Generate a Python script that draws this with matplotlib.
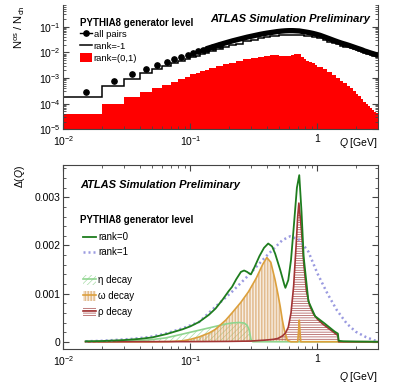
import matplotlib
matplotlib.use('Agg')
import matplotlib.pyplot as plt
import numpy as np
from matplotlib.lines import Line2D
from matplotlib.patches import Patch
from matplotlib.ticker import LogLocator, MultipleLocator, NullFormatter

plt.rcParams['font.family'] = ['Liberation Sans', 'DejaVu Sans']
plt.rcParams['mathtext.fontset'] = 'custom'
plt.rcParams['mathtext.rm'] = 'Liberation Sans'
plt.rcParams['mathtext.it'] = 'Liberation Sans:italic'
plt.rcParams['mathtext.bf'] = 'Liberation Sans:bold'
plt.rcParams['hatch.linewidth'] = 0.5

# ---- top panel: N_os / N_ch per Q bin
bin_edges = [0.01, 0.02, 0.03, 0.04, 0.05, 0.06, 0.07, 0.08, 0.09, 0.10,
             0.11, 0.12, 0.13, 0.14, 0.16, 0.18, 0.20, 0.23, 0.26, 0.30,
             0.34, 0.38, 0.42, 0.46, 0.50, 0.54, 0.58, 0.62, 0.66, 0.70,
             0.74, 0.78, 0.82, 0.86, 0.90, 0.95, 1.0, 1.1, 1.2, 1.3, 1.4,
             1.5, 1.6, 1.7, 1.8, 1.9, 2.0, 2.1, 2.2, 2.3, 2.4, 2.5, 2.6,
             2.7, 2.8, 2.9, 3.0]
all_pairs = [2.8e-4, 7.6e-4, 1.45e-3, 2.2e-3, 3.2e-3, 4.3e-3, 5.5e-3, 6.8e-3, 8.2e-3,
             9.6e-3, 1.1e-2, 1.25e-2, 1.4e-2, 1.65e-2, 2.0e-2, 2.35e-2, 2.8e-2, 3.3e-2,
             3.9e-2, 4.5e-2, 5.1e-2, 5.6e-2, 6.0e-2, 6.4e-2, 6.7e-2, 6.9e-2, 7.0e-2,
             7.0e-2, 6.9e-2, 6.8e-2,
             6.5e-2, 6.25e-2, 6.0e-2, 5.75e-2, 5.45e-2, 5.1e-2, 4.6e-2, 3.9e-2,
             3.35e-2, 2.9e-2, 2.55e-2, 2.28e-2, 2.08e-2, 1.9e-2, 1.73e-2, 1.58e-2,
             1.45e-2, 1.34e-2, 1.24e-2, 1.13e-2, 1.06e-2, 9.9e-3, 9.3e-3, 8.8e-3,
             8.3e-3, 7.9e-3]
rank_m1 = [1.8e-4, 5.0e-4, 9.1e-4, 1.5e-3, 2.2e-3, 3.0e-3, 3.7e-3, 4.6e-3, 5.5e-3,
           6.4e-3, 7.3e-3, 8.3e-3, 9.3e-3, 1.1e-2, 1.33e-2, 1.57e-2, 1.87e-2, 2.2e-2,
           2.65e-2, 3.05e-2, 3.5e-2, 3.85e-2, 4.15e-2, 4.45e-2, 4.7e-2, 4.85e-2,
           4.95e-2, 4.95e-2, 4.9e-2, 4.8e-2,
           4.6e-2, 4.5e-2, 4.35e-2, 4.2e-2, 4.0e-2, 3.8e-2, 3.5e-2, 3.0e-2,
           2.6e-2, 2.28e-2, 2.03e-2, 1.83e-2, 1.68e-2, 1.55e-2, 1.42e-2, 1.31e-2,
           1.21e-2, 1.12e-2, 1.04e-2, 9.6e-3, 9.0e-3, 8.4e-3, 7.9e-3, 7.5e-3,
           7.1e-3, 6.8e-3]
rank_01 = [4.0e-5, 9.8e-5, 1.8e-4, 2.8e-4, 4.0e-4, 5.5e-4, 7.2e-4, 9.1e-4, 1.12e-3,
           1.4e-3, 1.6e-3, 1.8e-3, 2.0e-3, 2.4e-3, 2.9e-3, 3.4e-3, 4.0e-3, 4.7e-3,
           5.3e-3, 5.9e-3, 6.6e-3, 7.2e-3, 7.7e-3, 7.8e-3, 7.5e-3, 6.9e-3, 6.9e-3,
           7.6e-3, 8.6e-3, 8.5e-3,
           6.8e-3, 5.5e-3, 4.7e-3, 4.2e-3, 3.7e-3, 3.3e-3, 2.8e-3, 2.15e-3,
           1.7e-3, 1.3e-3, 1.0e-3, 7.8e-4, 6.2e-4, 5.0e-4, 3.9e-4, 3.0e-4,
           2.4e-4, 1.9e-4, 1.5e-4, 1.2e-4, 9.7e-5, 8.0e-5, 6.6e-5, 5.6e-5,
           4.8e-5, 4.2e-5]

# ---- bottom panel: Delta(Q), values in units of 1e-3
q_rank0 = [0.015, 0.02, 0.03, 0.04, 0.05, 0.065, 0.087, 0.1, 0.117, 0.14, 0.158, 0.18,
           0.2, 0.213, 0.23, 0.25, 0.265, 0.28, 0.29, 0.30, 0.32, 0.35, 0.38, 0.41,
           0.44, 0.465, 0.51, 0.55, 0.56, 0.59, 0.62, 0.65, 0.69, 0.72, 0.75, 0.78,
           0.85, 0.96, 1.14, 1.37, 1.45, 1.47, 1.6, 2.0, 3.0]
d_rank0 = [0.01, 0.015, 0.035, 0.06, 0.09, 0.16, 0.26, 0.32, 0.41, 0.56, 0.69, 0.88,
           1.05, 1.14, 1.30, 1.45, 1.48, 1.45, 1.42, 1.40, 1.55, 1.78, 1.95, 2.04,
           1.98, 1.83, 1.49, 1.18, 1.12, 1.28, 1.7, 2.35, 3.2, 3.46, 2.7, 1.76,
           0.84, 0.53, 0.38, 0.21, 0.17, 0.02, 0.01, 0.005, 0.0]
q_rank1 = [0.015, 0.02, 0.035, 0.048, 0.064, 0.087, 0.117, 0.158, 0.213, 0.287, 0.39,
           0.53, 0.61, 0.72, 0.85, 1.0, 1.2, 1.42, 1.7, 2.0, 2.4, 2.8, 3.0]
d_rank1 = [0.01, 0.02, 0.06, 0.10, 0.17, 0.28, 0.41, 0.73, 1.04, 1.38, 1.76, 2.11,
           2.19, 2.12, 1.87, 1.42, 1.0, 0.66, 0.38, 0.21, 0.10, 0.03, 0.02]
q_eta = [0.015, 0.03, 0.048, 0.064, 0.087, 0.117, 0.158, 0.19, 0.213, 0.24, 0.265,
         0.28, 0.29, 0.30, 0.31, 3.0]
d_eta = [0.0, 0.01, 0.04, 0.08, 0.16, 0.24, 0.32, 0.37, 0.39, 0.40, 0.39, 0.34, 0.25,
         0.05, 0.0, 0.0]
q_omega = [0.015, 0.05, 0.07, 0.087, 0.1, 0.117, 0.14, 0.158, 0.19, 0.213, 0.25, 0.287,
           0.33, 0.37, 0.40, 0.43, 0.465, 0.49, 0.51, 0.53, 0.55, 0.58, 0.62, 0.70,
           0.71, 0.72, 0.73, 0.74, 3.0]
d_omega = [0.0, 0.0, 0.005, 0.02, 0.05, 0.1, 0.18, 0.26, 0.45, 0.6, 0.82, 1.04, 1.32,
           1.6, 1.75, 1.65, 1.28, 0.98, 0.73, 0.45, 0.24, 0.03, 0.0, 0.0, 0.2, 0.45,
           0.2, 0.0, 0.0]
q_rho = [0.015, 0.1, 0.2, 0.3, 0.39, 0.45, 0.49, 0.53, 0.56, 0.59, 0.62, 0.65, 0.68,
         0.70, 0.715, 0.75, 0.78, 0.82, 0.87, 0.93, 1.0, 1.1, 1.25, 1.4, 1.45, 1.47,
         3.0]
d_rho = [0.0, 0.003, 0.008, 0.015, 0.035, 0.05, 0.07, 0.12, 0.18, 0.3, 0.6, 1.15, 2.0,
         2.6, 2.88, 2.3, 1.65, 1.05, 0.75, 0.58, 0.47, 0.37, 0.26, 0.16, 0.13, 0.0, 0.0]

fig = plt.figure(figsize=(3.99, 3.87), dpi=100)

atlas_kw = dict(fontsize=8, fontweight='bold', fontstyle='italic')
frame_col = '#444444'

# ================= top panel
ax1 = fig.add_axes([0.1586, 0.6659, 0.7888, 0.3212])
ax1.set_xscale('log')
ax1.set_yscale('log')
edges = np.array(bin_edges)
centers = 0.5 * (edges[:-1] + edges[1:])
ap = np.array(all_pairs)
ax1.stairs(rank_01, edges, fill=True, baseline=1e-7, color='#ff0000', lw=0)
ax1.stairs(rank_m1, edges, baseline=None, color='black', lw=1.1)
ax1.plot(centers[12:], ap[12:], color='black', lw=3.8, solid_capstyle='round')
ax1.plot(centers[:15], ap[:15], 'o', color='black', ms=3.8)
ax1.set_xlim(0.01, 3.0)
ax1.set_ylim(1e-5, 0.7)
ax1.set_xticks([0.01, 0.1, 1])
ax1.set_xticklabels(['$10^{-2}$', '$10^{-1}$', '1'])
ax1.xaxis.set_minor_locator(LogLocator(base=10, subs=np.arange(2, 10), numticks=20))
ax1.xaxis.set_minor_formatter(NullFormatter())
ax1.yaxis.set_major_locator(LogLocator(base=10, numticks=10))
ax1.yaxis.set_minor_locator(LogLocator(base=10, subs=np.arange(2, 10), numticks=20))
ax1.yaxis.set_minor_formatter(NullFormatter())
ax1.tick_params(which='both', direction='in', right=True, top=False,
                labelsize=7.5, color=frame_col, pad=2)
ax1.tick_params(axis='x', pad=3.5)
ax1.tick_params(which='major', length=4.5)
ax1.tick_params(which='minor', length=2.5)
ax1.spines['top'].set_visible(False)
for s in ['left', 'right', 'bottom']:
    ax1.spines[s].set_color(frame_col)
ax1.text(0.975, 0.885, 'ATLAS Simulation Preliminary', transform=ax1.transAxes,
         ha='right', va='center', **atlas_kw)
ax1.text(0.053, 0.858, 'PYTHIA8 generator level', transform=ax1.transAxes,
         ha='left', va='center', fontsize=7, fontweight='bold')
h_all = Line2D([], [], color='black', marker='o', ms=3.8, lw=1.0)
h_m1 = Line2D([], [], color='black', lw=1.1)
h_01 = Patch(facecolor='#ff0000', edgecolor='none')
ax1.legend([h_all, h_m1, h_01], ['all pairs', 'rank=-1', 'rank=(0,1)'],
           loc='upper left', bbox_to_anchor=(0.053, 0.805), frameon=False,
           fontsize=6.8, handlelength=1.3, handleheight=1.0,
           handletextpad=0.15, labelspacing=0.28, borderpad=0, borderaxespad=0)
fig.text(378 / 399, 1 - 143 / 387, '$Q$ [GeV]', ha='right', va='center', fontsize=7.5)
fig.text(20 / 399, 1 - 5 / 387, '$\\mathregular{N^{os}\\ /\\ N_{ch}}$', rotation=90,
         ha='center', va='top', fontsize=8)

# ================= bottom panel
ax2 = fig.add_axes([0.1586, 0.0982, 0.7888, 0.4754])
ax2.set_xscale('log')
k = 1e-3
eta_col, omega_col, rho_col = '#8fd58f', '#dca03c', '#a33535'
eta_h, omega_h, rho_h = '#a8dca8', '#d6a060', '#a54848'
ax2.fill_between(q_eta, 0, np.array(d_eta) * k, facecolor='none', edgecolor=eta_h,
                 hatch='//////', lw=0)
ax2.fill_between(q_omega, 0, np.array(d_omega) * k, facecolor='none', edgecolor=omega_h,
                 hatch='|' * 11, lw=0)
ax2.fill_between(q_rho, 0, np.array(d_rho) * k, facecolor='none', edgecolor=rho_h,
                 hatch='-' * 7, lw=0)
ax2.plot(q_eta, np.array(d_eta) * k, color=eta_col, lw=1.2)
ax2.plot(q_omega, np.array(d_omega) * k, color=omega_col, lw=1.2)
ax2.plot(q_rho, np.array(d_rho) * k, color=rho_col, lw=1.2)
ax2.plot(q_rank1, np.array(d_rank1) * k, color='#9a9ae0', lw=1.8, ls=(0, (0.8, 1.2)))
ax2.plot(q_rank0, np.array(d_rank0) * k, color='#1e7d1e', lw=1.3)
ax2.set_xlim(0.01, 3.0)
ax2.set_ylim(-0.00015, 0.00367)
ax2.set_xticks([0.01, 0.1, 1])
ax2.set_xticklabels(['$10^{-2}$', '$10^{-1}$', '1'])
ax2.xaxis.set_minor_locator(LogLocator(base=10, subs=np.arange(2, 10), numticks=20))
ax2.xaxis.set_minor_formatter(NullFormatter())
ax2.set_yticks([0, 0.001, 0.002, 0.003])
ax2.set_yticklabels(['0', '0.001', '0.002', '0.003'])
ax2.yaxis.set_minor_locator(MultipleLocator(0.0002))
ax2.tick_params(which='both', direction='in', right=True, top=True,
                labelsize=7.5, color=frame_col, pad=2)
ax2.tick_params(axis='x', pad=3.5)
ax2.tick_params(which='major', length=4.5)
ax2.tick_params(which='minor', length=2.5)
for s in ax2.spines.values():
    s.set_color(frame_col)
ax2.text(0.053, 0.891, 'ATLAS Simulation Preliminary', transform=ax2.transAxes,
         ha='left', va='center', **atlas_kw)
ax2.text(0.053, 0.701, 'PYTHIA8 generator level', transform=ax2.transAxes,
         ha='left', va='center', fontsize=7, fontweight='bold')
h_r0 = Line2D([], [], color='#1e7d1e', lw=1.3)
h_r1 = Line2D([], [], color='#9a9ae0', lw=1.8, ls=(0, (0.8, 1.2)))
leg2 = ax2.legend([h_r0, h_r1], ['rank=0', 'rank=1'],
                  loc='upper left', bbox_to_anchor=(0.062, 0.635), frameon=False,
                  fontsize=7, handlelength=1.4, handletextpad=0.2,
                  labelspacing=0.52, borderpad=0, borderaxespad=0)
ax2.add_artist(leg2)
h_eta = (Patch(facecolor='none', edgecolor=eta_h, hatch='//////', lw=0),
         Line2D([], [], color=eta_col, lw=1.2))
h_om = (Patch(facecolor='none', edgecolor=omega_h, hatch='|' * 11, lw=0),
        Line2D([], [], color=omega_col, lw=1.2))
h_rho = (Patch(facecolor='none', edgecolor=rho_h, hatch='-' * 7, lw=0),
         Line2D([], [], color=rho_col, lw=1.2))
ax2.legend([h_eta, h_om, h_rho], ['η decay', 'ω decay', 'ρ decay'],
           loc='upper left', bbox_to_anchor=(0.062, 0.404), frameon=False,
           fontsize=7, handlelength=1.4, handleheight=1.2, handletextpad=0.2,
           labelspacing=0.6, borderpad=0, borderaxespad=0)
fig.text(378 / 399, 1 - 377 / 387, '$Q$ [GeV]', ha='right', va='center', fontsize=7.5)
fig.text(20 / 399, 1 - 165 / 387, 'Δ($Q$)', rotation=90, ha='center', va='top',
         fontsize=7.5)

fig.savefig('out.png', dpi=100)
